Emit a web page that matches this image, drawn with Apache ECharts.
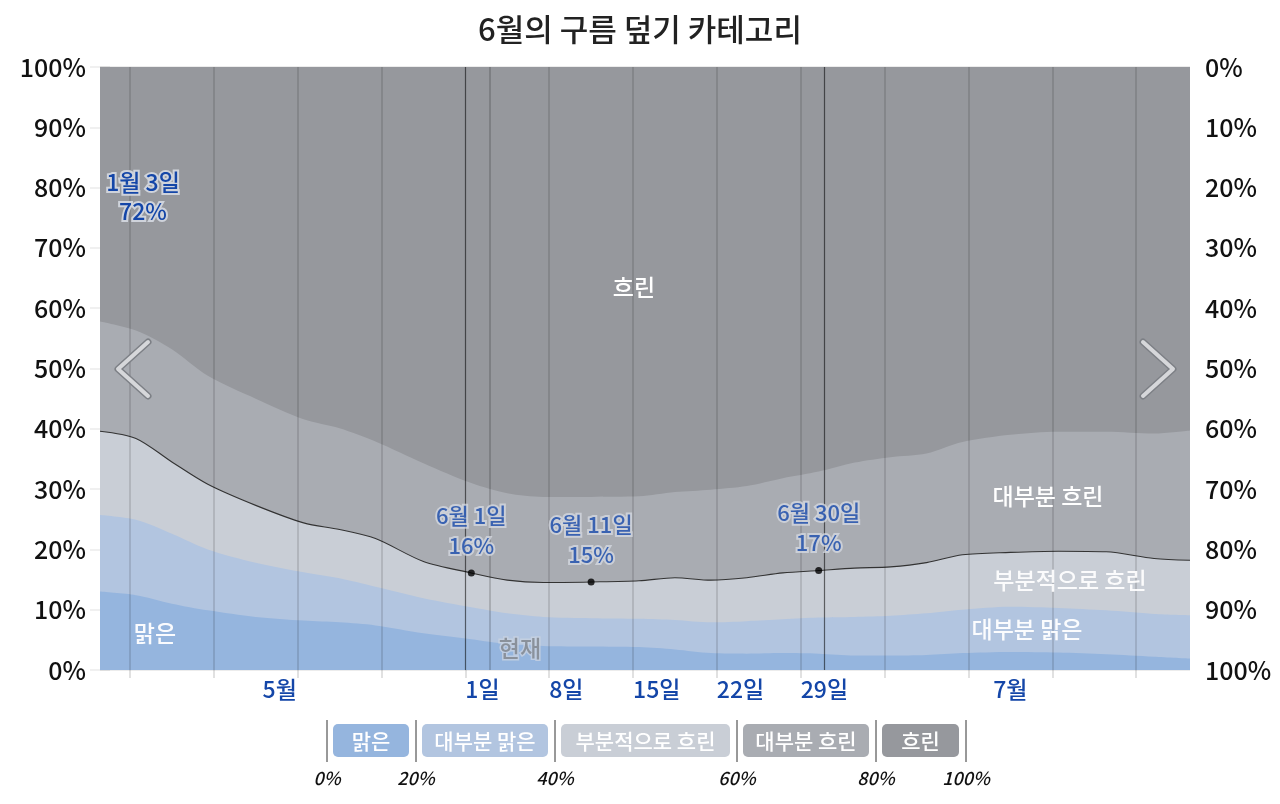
<!DOCTYPE html>
<html><head><meta charset="utf-8">
<script src="https://cdn.jsdelivr.net/npm/echarts@6/dist/echarts.min.js"></script>
<style>html,body{margin:0;padding:0;background:#fff}#c{width:1280px;height:804px}</style>
</head><body><div id="c"></div>
<script>
// day offset from May 1 (0 = 5월 1일, 91 = 7월 31일)
const days = [0,3,6,9,13,17,20,23,27,31,34,37,41,45,48,51,54,57,60,63,66,69,72,76,80,84,88,91];
const clear        = [13.0,12.4,11.0,9.9,8.8,8.2,7.9,7.4,6.1,5.1,4.3,4.0,3.9,3.8,3.4,2.8,2.7,2.8,2.7,2.4,2.4,2.5,2.8,3.0,2.9,2.6,2.2,1.9];
const mostlyClear  = [12.7,12.5,11.6,10.1,9.0,8.0,7.3,6.4,5.8,5.3,5.1,4.8,4.7,4.7,4.9,5.1,5.4,5.6,6.0,6.4,6.6,6.9,7.2,7.5,7.4,7.3,7.1,7.2];
const partlyCloudy = [13.9,13.5,11.9,10.8,9.5,8.2,8.1,8.0,6.1,5.7,5.5,5.7,6.0,6.3,7.0,7.0,7.2,7.7,7.8,8.1,8.1,8.4,9.1,9.0,9.4,9.7,9.2,9.1];
const mostlyCloudy = [18.2,17.9,18.7,18.0,17.7,17.2,16.8,16.1,16.3,14.9,14.4,14.2,14.1,14.0,14.2,15.0,15.2,15.7,16.4,17.5,18.2,18.1,18.7,19.5,19.8,19.9,20.7,21.5];
const overcast     = [42.2,43.7,46.8,51.2,55.0,58.4,59.9,62.1,65.7,69.0,70.7,71.3,71.3,71.2,70.5,70.1,69.5,68.2,67.1,65.6,64.7,64.1,62.2,61.0,60.5,60.5,60.8,60.3];

const categoryNames  = ['맑은','대부분 맑은','부분적으로 흐린','대부분 흐린','흐린'];
const categoryColors = ['#95b5de','#b2c5e0','#c9ced6','#a9acb2','#96989d'];

const weekLines       = [2.5,9.5,16.5,23.5,30.5,37.5,44.5,51.5,58.5,65.5,72.5,79.5,86.5];
const monthBoundaries = [30.5,60.5];
const todayLine       = 32.5;
const monthLabelDays  = [15,76];
const monthLabels     = ['5월','7월'];
const dayLabelDays    = [30.5,37.5,44.5,51.5,58.5];
const dayLabels       = ['1일','8일','15일','22일','29일'];

const highlightDays   = [31,41,60];
const highlightLabels = ['6월 1일','6월 11일','6월 30일'];
const highlightPct    = [16,15,17];

const FONT = "'Noto Sans CJK KR','Noto Sans',sans-serif";
const BLUE = '#1446a8';
const W = 500;

const layers = [clear, mostlyClear, partlyCloudy, mostlyCloudy, overcast];
// cumulative tops of each category (built from the arrays above)
const cumulative = layers.map((_, k) => days.map((d, i) => {
  let s = 0; for (let j = 0; j <= k; j++) s += layers[j][i];
  return Math.round(s * 10) / 10;
}));

const series = [];
for (let k = layers.length - 1; k >= 0; k--) {
  series.push({
    name: categoryNames[k],
    type: 'line',
    smooth: 0.3,
    showSymbol: false,
    silent: true,
    data: days.map((d, i) => [d, cumulative[k][i]]),
    lineStyle: k === 2 ? {color: '#333333', width: 1.1} : {width: 0},
    areaStyle: {color: categoryColors[k], opacity: 1, origin: 'start'}
  });
}

// vertical reference lines
const vLines = weekLines.filter(v => monthBoundaries.indexOf(v) < 0).map(v => ({
  xAxis: v, lineStyle: {color: 'rgba(0,0,0,0.16)', width: 1.5, type: 'solid'}
})).concat(monthBoundaries.map(v => ({
  xAxis: v, lineStyle: {color: 'rgba(0,0,0,0.55)', width: 1.2, type: 'solid'}
}))).concat([{xAxis: todayLine, lineStyle: {color: 'rgba(0,0,0,0.22)', width: 1.5, type: 'solid'}}]);

series[series.length - 1].markLine = {silent: true, symbol: ['none','none'], label: {show: false}, animation: false, data: vLines};

// highlighted points on the partly-cloudy boundary
const cumAt = d => cumulative[2][days.indexOf(d)];
series.push({
  type: 'scatter',
  z: 6,
  symbolSize: 7,
  itemStyle: {color: '#000'},
  silent: true,
  data: highlightDays.map((d, j) => ({
    value: [d, cumAt(d)],
    label: {formatter: highlightLabels[j] + '\n' + highlightPct[j] + '%'}
  })),
  label: {
    show: true, position: 'top', distance: 9,
    color: BLUE, fontSize: 22, fontWeight: W, fontFamily: FONT, lineHeight: 30,
    textBorderColor: 'rgba(214,218,226,0.95)', textBorderWidth: 4, align: 'center'
  }
});

function txt(text, x, y, fill, size, extra) {
  return {
    type: 'text', x: x, y: y, silent: true, z: 50,
    style: Object.assign({text: text, fill: fill, fontSize: size, fontWeight: W, fontFamily: FONT, align: 'center', verticalAlign: 'middle'}, extra || {})
  };
}

const graphics = [];
// area labels
graphics.push(txt('흐린', 634, 287, '#ffffff', 23));
graphics.push(txt('대부분 흐린', 1048, 496, '#ffffff', 23));
graphics.push(txt('부분적으로 흐린', 1070, 580, 'rgba(255,255,255,0.92)', 23));
graphics.push(txt('대부분 맑은', 1027, 629, 'rgba(255,255,255,0.95)', 23));
graphics.push(txt('맑은', 155, 633, 'rgba(255,255,255,0.95)', 23));
graphics.push(txt('현재', 520, 648, '#8a919b', 23, {stroke: 'rgba(200,210,225,0.8)', lineWidth: 3}));
graphics.push(txt('1월 3일\n72%', 143, 197, BLUE, 23, {stroke: 'rgba(210,214,222,0.95)', lineWidth: 4, lineHeight: 29}));

// navigation chevrons
function chevron(pts) {
  graphics.push({type: 'polyline', silent: true, z: 50, shape: {points: pts},
    style: {stroke: '#7d8086', lineWidth: 7, lineCap: 'round', lineJoin: 'round', fill: null}});
  graphics.push({type: 'polyline', silent: true, z: 51, shape: {points: pts},
    style: {stroke: '#d6d7da', lineWidth: 4, lineCap: 'round', lineJoin: 'round', fill: null}});
}
chevron([[148,342],[118,369],[148,396]]);
chevron([[1143,342],[1173,369],[1143,396]]);

// bottom legend scale
const legendSeps = [327,416,555,737,876,966];
const legendPct = ['0%','20%','40%','60%','80%','100%'];
legendSeps.forEach((x, i) => {
  graphics.push({type: 'line', silent: true, shape: {x1: x, y1: 720, x2: x, y2: 762}, style: {stroke: '#333', lineWidth: 1}});
  graphics.push(txt(legendPct[i], x, 778, '#111', 18, {fontStyle: 'italic'}));
});
categoryNames.forEach((n, i) => {
  const x0 = legendSeps[i] + 6, x1 = legendSeps[i + 1] - 7;
  graphics.push({type: 'rect', silent: true, shape: {x: x0, y: 724, width: x1 - x0, height: 33, r: 5}, style: {fill: categoryColors[i]}});
  graphics.push(txt(n, (x0 + x1) / 2, 741, '#ffffff', 21));
});

const chart = echarts.init(document.getElementById('c'));
chart.setOption({
  animation: false,
  backgroundColor: '#ffffff',
  title: {text: '6월의 구름 덮기 카테고리', left: 'center', top: 9,
    textStyle: {fontSize: 31, fontWeight: W, color: '#222', fontFamily: FONT}},
  grid: {left: 100, right: 90, top: 67, bottom: 134},
  xAxis: [{
    type: 'value', min: 0, max: 91,
    axisLine: {show: false},
    splitLine: {show: false},
    axisTick: {show: true, customValues: weekLines, length: 8, lineStyle: {color: 'rgba(0,0,0,0.16)', width: 1.5}},
    axisLabel: {customValues: monthLabelDays, margin: 8, color: BLUE, fontSize: 23, fontWeight: W, fontFamily: FONT,
      formatter: v => monthLabels[monthLabelDays.indexOf(v)] || ''}
  }, {
    type: 'value', min: 0, max: 91, position: 'bottom',
    axisLine: {show: false}, axisTick: {show: false}, splitLine: {show: false},
    axisLabel: {customValues: dayLabelDays, margin: 8, align: 'left', color: BLUE, fontSize: 23, fontWeight: W, fontFamily: FONT,
      formatter: v => dayLabels[dayLabelDays.indexOf(v)] || ''}
  }],
  yAxis: [{
    type: 'value', min: 0, max: 100, interval: 10, position: 'left', z: 3,
    axisLine: {show: false},
    axisTick: {show: true, length: 10, lineStyle: {color: 'rgba(0,0,0,0.08)', width: 1.5}},
    splitLine: {show: true, lineStyle: {color: 'rgba(0,0,0,0.1)', width: 1.5}},
    axisLabel: {margin: 14, color: '#111', fontSize: 25, fontWeight: W, fontFamily: FONT, formatter: '{value}%'}
  }, {
    type: 'value', min: 0, max: 100, interval: 10, position: 'right', inverse: true,
    axisLine: {show: false},
    axisTick: {show: true, length: 10, lineStyle: {color: 'rgba(0,0,0,0.08)', width: 1.5}},
    splitLine: {show: false},
    axisLabel: {margin: 15, color: '#111', fontSize: 25, fontWeight: W, fontFamily: FONT, formatter: '{value}%'}
  }],
  series: series,
  graphic: graphics
});
</script>
</body></html>
